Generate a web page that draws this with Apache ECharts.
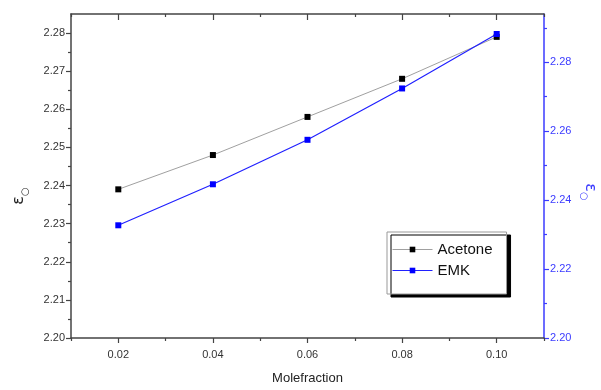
<!DOCTYPE html>
<html><head><meta charset="utf-8">
<script src="https://cdn.jsdelivr.net/npm/echarts@6/dist/echarts.min.js"></script>
<style>html,body{margin:0;padding:0;background:#fff}#c{width:601px;height:390px}</style>
</head><body><div id="c"></div>
<script>
var moleFraction = [0.02, 0.04, 0.06, 0.08, 0.10];
var acetone = [2.239, 2.248, 2.258, 2.268, 2.279];
var emk = [2.2327, 2.2446, 2.2575, 2.2724, 2.2882];
var xMajor = [0.02, 0.04, 0.06, 0.08, 0.10];
var xMinor = [0.01, 0.03, 0.05, 0.07, 0.09, 0.11];
var leftMajor = [2.20, 2.21, 2.22, 2.23, 2.24, 2.25, 2.26, 2.27, 2.28];
var leftMinor = [2.205, 2.215, 2.225, 2.235, 2.245, 2.255, 2.265, 2.275];
var rightMajor = [2.20, 2.22, 2.24, 2.26, 2.28];
var rightMinor = [2.21, 2.23, 2.25, 2.27, 2.29];

var FONT = 'Liberation Sans, Arial, sans-serif';
var DARK = '#444';
var BLUE = '#3b3bff';
function pairs(xs, ys){ return xs.map(function(x,i){ return [x, ys[i]]; }); }

var xBase = {type:'value', min:0.01, max:0.11, interval:0.01, splitLine:{show:false}};
var yLBase = {type:'value', min:2.20, max:2.285, interval:0.005, splitLine:{show:false}, position:'left'};
var yRBase = {type:'value', min:2.20, max:2.294, interval:0.01, splitLine:{show:false}, position:'right'};
function ext(b, o){ var r = {}; for (var k in b) r[k]=b[k]; for (var k2 in o) r[k2]=o[k2]; return r; }

var chart = echarts.init(document.getElementById('c'));
chart.setOption({
  animation:false,
  backgroundColor:'#fff',
  grid:{left:71, right:57, top:14, bottom:49},
  xAxis:[
    ext(xBase,{position:'bottom', name:'Molefraction', nameLocation:'middle', nameGap:34,
      nameTextStyle:{fontFamily:FONT, fontSize:13, color:'#222'},
      axisLine:{show:true, lineStyle:{color:DARK, width:1.5}},
      axisTick:{show:true, length:5, lineStyle:{color:DARK, width:1.2}, customValues:xMajor},
      axisLabel:{fontFamily:FONT, fontSize:11, color:'#333', margin:11, customValues:xMajor,
        formatter:function(v){return v.toFixed(2);}}}),
    ext(xBase,{position:'bottom', axisLine:{show:false},
      axisTick:{show:true, length:3, lineStyle:{color:DARK, width:1.2}, customValues:xMinor},
      axisLabel:{show:false}}),
    ext(xBase,{position:'top', axisLine:{show:true, lineStyle:{color:DARK, width:1.5}},
      axisTick:{show:true, inside:true, length:6, lineStyle:{color:DARK, width:1.2}, customValues:xMajor},
      axisLabel:{show:false}}),
    ext(xBase,{position:'top', axisLine:{show:false},
      axisTick:{show:true, inside:true, length:3, lineStyle:{color:DARK, width:1.2}, customValues:xMinor},
      axisLabel:{show:false}})
  ],
  yAxis:[
    ext(yLBase,{axisLine:{show:true, lineStyle:{color:DARK, width:1.5}},
      axisTick:{show:true, length:5, lineStyle:{color:DARK, width:1.2}, customValues:leftMajor},
      axisLabel:{fontFamily:FONT, fontSize:11, color:'#333', margin:6, customValues:leftMajor,
        formatter:function(v){return v.toFixed(2);}}}),
    ext(yLBase,{axisLine:{show:false},
      axisTick:{show:true, length:3, lineStyle:{color:DARK, width:1.2}, customValues:leftMinor},
      axisLabel:{show:false}}),
    ext(yRBase,{axisLine:{show:true, lineStyle:{color:BLUE, width:1.5}},
      axisTick:{show:true, length:5, lineStyle:{color:BLUE, width:1.2}, customValues:rightMajor},
      axisLabel:{fontFamily:FONT, fontSize:11, color:'#3b3bff', margin:6, customValues:rightMajor,
        formatter:function(v){return v.toFixed(2);}}}),
    ext(yRBase,{axisLine:{show:false},
      axisTick:{show:true, length:3, lineStyle:{color:BLUE, width:1.2}, customValues:rightMinor},
      axisLabel:{show:false}})
  ],
  legend:{
    orient:'vertical', left:387, top:232, itemWidth:40, itemHeight:7, itemGap:6,
    padding:[10, 14, 16, 5],
    backgroundColor:'#fff', borderColor:'#999', borderWidth:1,
    shadowColor:'#000', shadowBlur:0, shadowOffsetX:4, shadowOffsetY:3,
    lineStyle:{width:1},
    textStyle:{fontFamily:FONT, fontSize:15, color:'#111'},
    data:['Acetone','EMK']
  },
  graphic:[
    {type:'text', x:19, y:196, rotation:Math.PI/2,
      style:{text:'{e|ε}{s|○}', align:'center', verticalAlign:'middle',
        rich:{e:{fontFamily:'DejaVu Sans', fontSize:16, fill:'#222', lineHeight:22, verticalAlign:'middle'},
              s:{fontFamily:'DejaVu Sans', fontSize:10, fill:'#222', lineHeight:22, verticalAlign:'bottom'}}}},
    {type:'text', x:590, y:192, rotation:-Math.PI/2,
      style:{text:'{e|ε}{s|○}', align:'center', verticalAlign:'middle',
        rich:{e:{fontFamily:'DejaVu Sans', fontSize:16, fill:BLUE, lineHeight:22, verticalAlign:'middle'},
              s:{fontFamily:'DejaVu Sans', fontSize:10, fill:BLUE, lineHeight:22, verticalAlign:'bottom'}}}}
  ],
  series:[
    {name:'Acetone', type:'line', xAxisIndex:0, yAxisIndex:0, data:pairs(moleFraction, acetone),
      symbol:'rect', symbolSize:6, lineStyle:{color:'#a0a0a0', width:1},
      itemStyle:{color:'#000'}},
    {name:'EMK', type:'line', xAxisIndex:0, yAxisIndex:2, data:pairs(moleFraction, emk),
      symbol:'rect', symbolSize:6, lineStyle:{color:'#2020ff', width:1.2},
      itemStyle:{color:'#0000ff'}}
  ]
});
</script></body></html>
